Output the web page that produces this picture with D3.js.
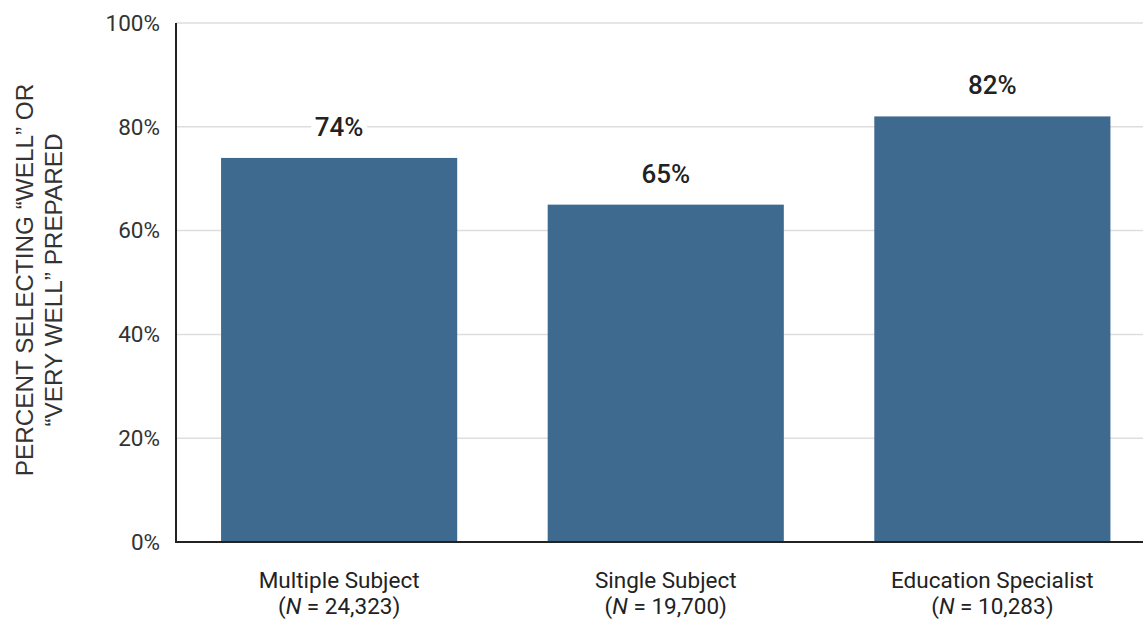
<!DOCTYPE html>
<html>
<head>
<meta charset="utf-8">
<script src="https://cdn.jsdelivr.net/npm/d3@7"></script>
<style>
  html, body { margin: 0; padding: 0; background: #fff; }
  svg { display: block; font-family: Roboto, "Noto Sans", sans-serif; }
</style>
</head>
<body>
<svg id="chart" width="1143" height="620"></svg>
<script>
// Program types and their respondent counts
const categories = ["Multiple Subject", "Single Subject", "Education Specialist"];
const counts = ["24,323", "19,700", "10,283"];
// Share selecting "well" or "very well" prepared (%)
const values = [74, 65, 82];
const yTicks = [0, 20, 40, 60, 80, 100];

const svg = d3.select("#chart");
const margin = { left: 176, right: 0, top: 23, bottom: 78 };
const W = 1143, H = 620;

const x = d3.scaleBand()
  .domain(categories)
  .range([margin.left, margin.left + 979.5])
  .paddingInner(0.277)
  .paddingOuter(0.138);

const y = d3.scaleLinear()
  .domain([0, 100])
  .range([H - margin.bottom, margin.top]);

// horizontal gridlines
svg.append("g")
  .selectAll("line")
  .data(yTicks.filter(t => t > 0))
  .join("line")
  .attr("x1", margin.left).attr("x2", W)
  .attr("y1", d => y(d)).attr("y2", d => y(d))
  .attr("stroke", "#dedede").attr("stroke-width", 1.5);

// y tick labels
const yAxis = d3.axisLeft(y).tickValues(yTicks).tickFormat(d => d + "%").tickSize(0).tickPadding(16);
const gy = svg.append("g").attr("transform", `translate(${margin.left},0)`).call(yAxis);
gy.select(".domain").remove();
gy.selectAll("text").attr("font-size", 22.5).attr("fill", "#333").attr("font-family", "Roboto, sans-serif");

// bars
svg.append("g")
  .selectAll("rect")
  .data(values)
  .join("rect")
  .attr("x", (d, i) => x(categories[i]))
  .attr("width", x.bandwidth())
  .attr("y", d => y(d))
  .attr("height", d => y(0) - y(d))
  .attr("fill", "#3f6a8f");

// value labels on a white backing so gridlines break around them
const vl = svg.append("g")
  .selectAll("g")
  .data(values)
  .join("g")
  .attr("transform", (d, i) => `translate(${x(categories[i]) + x.bandwidth() / 2},${y(d) - 22})`);
vl.append("rect")
  .attr("x", -28).attr("width", 56)
  .attr("y", -24).attr("height", 30)
  .attr("fill", "#fff");
vl.append("text")
  .attr("text-anchor", "middle")
  .attr("font-size", 26)
  .attr("font-weight", 500)
  .attr("fill", "#222")
  .text(d => d + "%");

// axis lines
svg.append("line")
  .attr("x1", margin.left).attr("x2", margin.left)
  .attr("y1", margin.top).attr("y2", y(0) + 1)
  .attr("stroke", "#222").attr("stroke-width", 2);
svg.append("line")
  .attr("x1", margin.left - 1).attr("x2", W)
  .attr("y1", y(0)).attr("y2", y(0))
  .attr("stroke", "#222").attr("stroke-width", 2);

// category labels with N
const cat = svg.append("g")
  .selectAll("text")
  .data(categories)
  .join("text")
  .attr("x", d => x(d) + x.bandwidth() / 2)
  .attr("y", 588)
  .attr("text-anchor", "middle")
  .attr("font-size", 22.5)
  .attr("fill", "#222");
cat.append("tspan").text(d => d);
cat.append("tspan")
  .attr("x", d => x(d) + x.bandwidth() / 2)
  .attr("dy", 26)
  .each(function (d, i) {
    const t = d3.select(this);
    t.append("tspan").text("(");
    t.append("tspan").attr("font-style", "italic").text("N");
    t.append("tspan").text(" = " + counts[i] + ")");
  });

// y axis title
const title = svg.append("text")
  .attr("transform", `translate(0, 280) rotate(-90)`)
  .attr("text-anchor", "middle")
  .attr("font-family", "'Liberation Sans', Arial, sans-serif")
  .attr("font-size", 24.3)
  .attr("fill", "#333");
title.append("tspan").attr("x", 0).attr("y", 33).text("PERCENT SELECTING \u201CWELL\u201D OR");
title.append("tspan").attr("x", 0).attr("y", 62).text("\u201CVERY WELL\u201D PREPARED");
</script>
</body>
</html>
